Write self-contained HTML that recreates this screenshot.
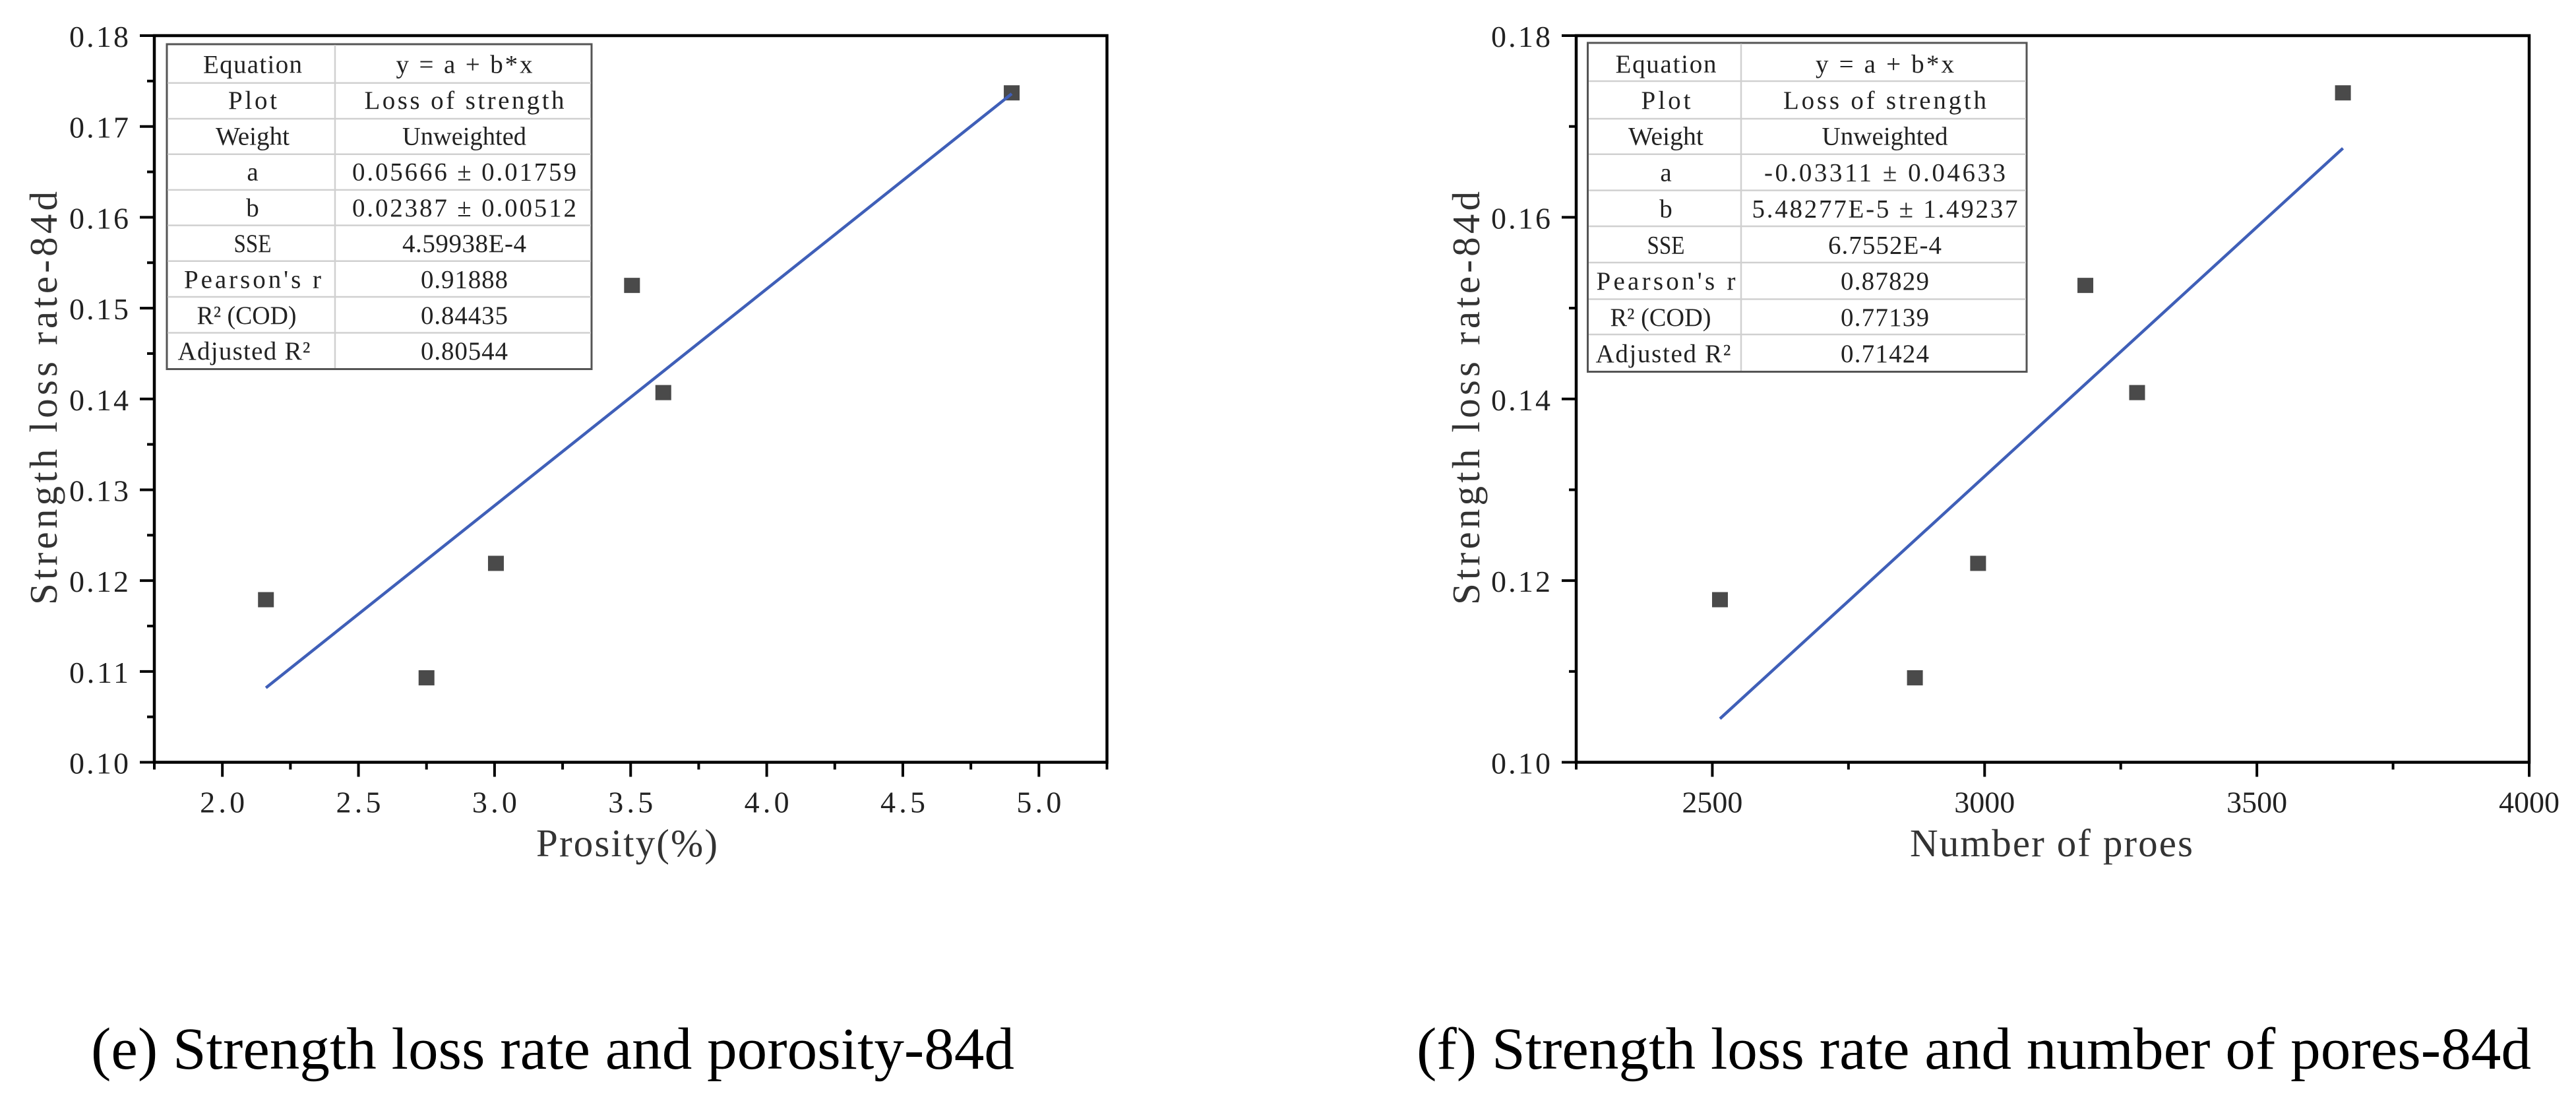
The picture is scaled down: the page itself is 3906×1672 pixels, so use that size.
<!DOCTYPE html>
<html lang="en">
<head>
<meta charset="utf-8">
<title>Strength loss rate charts</title>
<style>
html,body{margin:0;padding:0;background:#fff;}
svg{display:block;}
.tbl text{font-family:"Liberation Serif",serif;font-size:39px;fill:#222;text-anchor:middle;}
.tick{font-family:"Liberation Serif",serif;font-size:46px;fill:#222;}
.title{font-family:"Liberation Serif",serif;font-size:59px;fill:#333;}
.cap{font-family:"Liberation Serif",serif;font-size:90px;fill:#000;}
.outer{fill:#fff;stroke:#555;stroke-width:3;}
.inner{stroke:#d0d0d0;stroke-width:2.5;}
</style>
</head>
<body>
<svg id="figure" xmlns="http://www.w3.org/2000/svg" width="3906" height="1672" viewBox="0 0 3906 1672">
<rect x="0" y="0" width="3906" height="1672" fill="#fff"/>
<g id="panel-e"></g>
<g id="panel-f"></g>

<g class="tbl">
<rect class="outer" x="253" y="67" width="644" height="492.5"/>
<line class="inner" x1="508" y1="68" x2="508" y2="558"/>
<line class="inner" x1="254" x2="896" y1="125.7" y2="125.7"/>
<line class="inner" x1="254" x2="896" y1="180" y2="180"/>
<line class="inner" x1="254" x2="896" y1="233.7" y2="233.7"/>
<line class="inner" x1="254" x2="896" y1="287.9" y2="287.9"/>
<line class="inner" x1="254" x2="896" y1="341.6" y2="341.6"/>
<line class="inner" x1="254" x2="896" y1="395.8" y2="395.8"/>
<line class="inner" x1="254" x2="896" y1="450" y2="450"/>
<line class="inner" x1="254" x2="896" y1="504.5" y2="504.5"/>
<text x="383" y="110.7" textLength="150" lengthAdjust="spacing">Equation</text>
<text x="704" y="110.7" textLength="207" lengthAdjust="spacing">y = a + b*x</text>
<text x="383" y="165" textLength="74" lengthAdjust="spacing">Plot</text>
<text x="704" y="165" textLength="303" lengthAdjust="spacing">Loss of strength</text>
<text x="383" y="219.3" textLength="112" lengthAdjust="spacingAndGlyphs">Weight</text>
<text x="704" y="219.3" textLength="188" lengthAdjust="spacingAndGlyphs">Unweighted</text>
<text x="383" y="273.6">a</text>
<text x="704" y="273.6" textLength="340" lengthAdjust="spacing">0.05666 ± 0.01759</text>
<text x="383" y="327.9">b</text>
<text x="704" y="327.9" textLength="340" lengthAdjust="spacing">0.02387 ± 0.00512</text>
<text x="383" y="382.2" textLength="57" lengthAdjust="spacingAndGlyphs">SSE</text>
<text x="704" y="382.2" textLength="188" lengthAdjust="spacing">4.59938E-4</text>
<text x="383" y="436.5" textLength="208" lengthAdjust="spacing">Pearson's r</text>
<text x="704" y="436.5" textLength="132" lengthAdjust="spacing">0.91888</text>
<text x="374" y="490.8" textLength="151" lengthAdjust="spacingAndGlyphs">R² (COD)</text>
<text x="704" y="490.8" textLength="132" lengthAdjust="spacing">0.84435</text>
<text x="370" y="545.1" textLength="201" lengthAdjust="spacing">Adjusted R²</text>
<text x="704" y="545.1" textLength="132" lengthAdjust="spacing">0.80544</text>
</g>

<g class="tbl">
<rect class="outer" x="2407.5" y="65" width="665.5" height="498.5"/>
<line class="inner" x1="2640" y1="66" x2="2640" y2="562"/>
<line class="inner" x1="2409" x2="3072" y1="123" y2="123"/>
<line class="inner" x1="2409" x2="3072" y1="180" y2="180"/>
<line class="inner" x1="2409" x2="3072" y1="233.7" y2="233.7"/>
<line class="inner" x1="2409" x2="3072" y1="288.6" y2="288.6"/>
<line class="inner" x1="2409" x2="3072" y1="343" y2="343"/>
<line class="inner" x1="2409" x2="3072" y1="398" y2="398"/>
<line class="inner" x1="2409" x2="3072" y1="453.5" y2="453.5"/>
<line class="inner" x1="2409" x2="3072" y1="507" y2="507"/>
<text x="2526" y="110" textLength="153" lengthAdjust="spacing">Equation</text>
<text x="2858" y="110" textLength="210" lengthAdjust="spacing">y = a + b*x</text>
<text x="2526" y="164.9" textLength="75" lengthAdjust="spacing">Plot</text>
<text x="2858" y="164.9" textLength="308" lengthAdjust="spacing">Loss of strength</text>
<text x="2526" y="219.7" textLength="114" lengthAdjust="spacingAndGlyphs">Weight</text>
<text x="2858" y="219.7" textLength="191" lengthAdjust="spacingAndGlyphs">Unweighted</text>
<text x="2526" y="274.6">a</text>
<text x="2858" y="274.6" textLength="366" lengthAdjust="spacing">-0.03311 ± 0.04633</text>
<text x="2526" y="329.4">b</text>
<text x="2858" y="329.4" textLength="403" lengthAdjust="spacing">5.48277E-5 ± 1.49237</text>
<text x="2526" y="384.3" textLength="57" lengthAdjust="spacingAndGlyphs">SSE</text>
<text x="2858" y="384.3" textLength="172" lengthAdjust="spacing">6.7552E-4</text>
<text x="2526" y="439.1" textLength="211" lengthAdjust="spacing">Pearson's r</text>
<text x="2858" y="439.1" textLength="134" lengthAdjust="spacing">0.87829</text>
<text x="2518" y="494" textLength="153" lengthAdjust="spacingAndGlyphs">R² (COD)</text>
<text x="2858" y="494" textLength="134" lengthAdjust="spacing">0.77139</text>
<text x="2522" y="548.8" textLength="205" lengthAdjust="spacing">Adjusted R²</text>
<text x="2858" y="548.8" textLength="134" lengthAdjust="spacing">0.71424</text>
</g>

<text class="title" transform="translate(86,917) rotate(-90)" textLength="627" lengthAdjust="spacing">Strength loss rate-84d</text>
<text class="title" x="813" y="1298" textLength="275" lengthAdjust="spacing">Prosity(%)</text>
<text class="title" transform="translate(2243,917) rotate(-90)" textLength="627" lengthAdjust="spacing">Strength loss rate-84d</text>
<text class="title" x="2896" y="1298" textLength="429" lengthAdjust="spacing">Number of proes</text>

<text class="cap" x="138" y="1620" textLength="1400" lengthAdjust="spacingAndGlyphs">(e) Strength loss rate and porosity-84d</text>
<text class="cap" x="2148" y="1620" textLength="1690" lengthAdjust="spacingAndGlyphs">(f) Strength loss rate and number of pores-84d</text>
</svg>

<script>
// Chart e: porosity
const porosityValues = [2.16, 2.75, 3.005, 3.505, 3.62, 4.9];
const lossValuesE = [0.1179, 0.1093, 0.1219, 0.1525, 0.1407, 0.1737];
const fitXE = [2.16, 4.9];
const fitYE = [0.1082, 0.1736];
const xMajorE = [2.0, 2.5, 3.0, 3.5, 4.0, 4.5, 5.0];
const xMajorLabelsE = ['2.0', '2.5', '3.0', '3.5', '4.0', '4.5', '5.0'];
const xMinorE = [1.75, 2.25, 2.75, 3.25, 3.75, 4.25, 4.75, 5.25];
const yMajorE = [0.10, 0.11, 0.12, 0.13, 0.14, 0.15, 0.16, 0.17, 0.18];
const yMajorLabelsE = ['0.10', '0.11', '0.12', '0.13', '0.14', '0.15', '0.16', '0.17', '0.18'];
const yMinorE = [0.105, 0.115, 0.125, 0.135, 0.145, 0.155, 0.165, 0.175];

// Chart f: number of pores
const poreCounts = [2514, 2872, 2988, 3185, 3280, 3658];
const lossValuesF = [0.1179, 0.1093, 0.1219, 0.1525, 0.1407, 0.1737];
const fitXF = [2514, 3658];
const fitYF = [0.1048, 0.1676];
const xMajorF = [2500, 3000, 3500, 4000];
const xMajorLabelsF = ['2500', '3000', '3500', '4000'];
const xMinorF = [2250, 2750, 3250, 3750];
const yMajorF = [0.10, 0.12, 0.14, 0.16, 0.18];
const yMajorLabelsF = ['0.10', '0.12', '0.14', '0.16', '0.18'];
const yMinorF = [0.11, 0.13, 0.15, 0.17];

const NS = 'http://www.w3.org/2000/svg';

function makeScale(d0, d1, r0, r1) {
  return function (v) { return r0 + (v - d0) / (d1 - d0) * (r1 - r0); };
}

function addLine(parent, x1, y1, x2, y2, width, color) {
  const el = document.createElementNS(NS, 'line');
  el.setAttribute('x1', x1);
  el.setAttribute('y1', y1);
  el.setAttribute('x2', x2);
  el.setAttribute('y2', y2);
  el.setAttribute('stroke', color);
  el.setAttribute('stroke-width', width);
  parent.appendChild(el);
  return el;
}

function addTickLabel(parent, x, y, text, length, anchor) {
  const el = document.createElementNS(NS, 'text');
  el.setAttribute('class', 'tick');
  el.setAttribute('x', x);
  el.setAttribute('y', y);
  el.setAttribute('text-anchor', anchor);
  el.setAttribute('textLength', length);
  el.setAttribute('lengthAdjust', 'spacing');
  el.textContent = text;
  parent.appendChild(el);
  return el;
}

function drawPanel(parent, box, xDomain, yDomain, xs, ys, fitX, fitY, xMajor, xLabels, xMinor, yMajor, yLabels, yMinor, xLabelLen) {
  const sx = makeScale(xDomain[0], xDomain[1], box.left, box.right);
  const sy = makeScale(yDomain[0], yDomain[1], box.bottom, box.top);

  xMinor.forEach(function (v) {
    const el = addLine(parent, sx(v), box.bottom, sx(v), box.bottom + 11, 4, '#000');
    
    
  });
  xMajor.forEach(function (v, i) {
    const el = addLine(parent, sx(v), box.bottom, sx(v), box.bottom + 22, 4, '#000');
    
    
    const lab = addTickLabel(parent, sx(v), box.bottom + 76, xLabels[i], xLabelLen, 'middle');
    
    
  });
  yMinor.forEach(function (v) {
    const el = addLine(parent, box.left - 11, sy(v), box.left, sy(v), 4, '#000');
    
    
  });
  yMajor.forEach(function (v, i) {
    const el = addLine(parent, box.left - 22, sy(v), box.left, sy(v), 4, '#000');
    
    
    const lab = addTickLabel(parent, box.left - 39, sy(v) + 17, yLabels[i], 90, 'end');
    
    
  });

  const frame = document.createElementNS(NS, 'rect');
  frame.setAttribute('x', box.left);
  frame.setAttribute('y', box.top);
  frame.setAttribute('width', box.right - box.left);
  frame.setAttribute('height', box.bottom - box.top);
  frame.setAttribute('fill', 'none');
  frame.setAttribute('stroke', '#000');
  frame.setAttribute('stroke-width', 4.5);
  
  
  parent.appendChild(frame);

  xs.forEach(function (v, i) {
    const pt = document.createElementNS(NS, 'rect');
    pt.setAttribute('x', sx(v) - 12);
    pt.setAttribute('y', sy(ys[i]) - 11.5);
    pt.setAttribute('width', 24);
    pt.setAttribute('height', 23);
    pt.setAttribute('fill', '#4a4a4a');
    
    
    parent.appendChild(pt);
  });

  const fit = addLine(parent, sx(fitX[0]), sy(fitY[0]), sx(fitX[1]), sy(fitY[1]), 4.5, '#3f5fb8');
  
  
}

drawPanel(document.getElementById('panel-e'),
  { left: 234, right: 1678.5, top: 54, bottom: 1155.5 },
  [1.75, 5.25], [0.10, 0.18],
  porosityValues, lossValuesE, fitXE, fitYE,
  xMajorE, xMajorLabelsE, xMinorE, yMajorE, yMajorLabelsE, yMinorE, 68);

drawPanel(document.getElementById('panel-f'),
  { left: 2390, right: 3835, top: 54, bottom: 1155.5 },
  [2250, 4000], [0.10, 0.18],
  poreCounts, lossValuesF, fitXF, fitYF,
  xMajorF, xMajorLabelsF, xMinorF, yMajorF, yMajorLabelsF, yMinorF, 92);
</script>
</body>
</html>
